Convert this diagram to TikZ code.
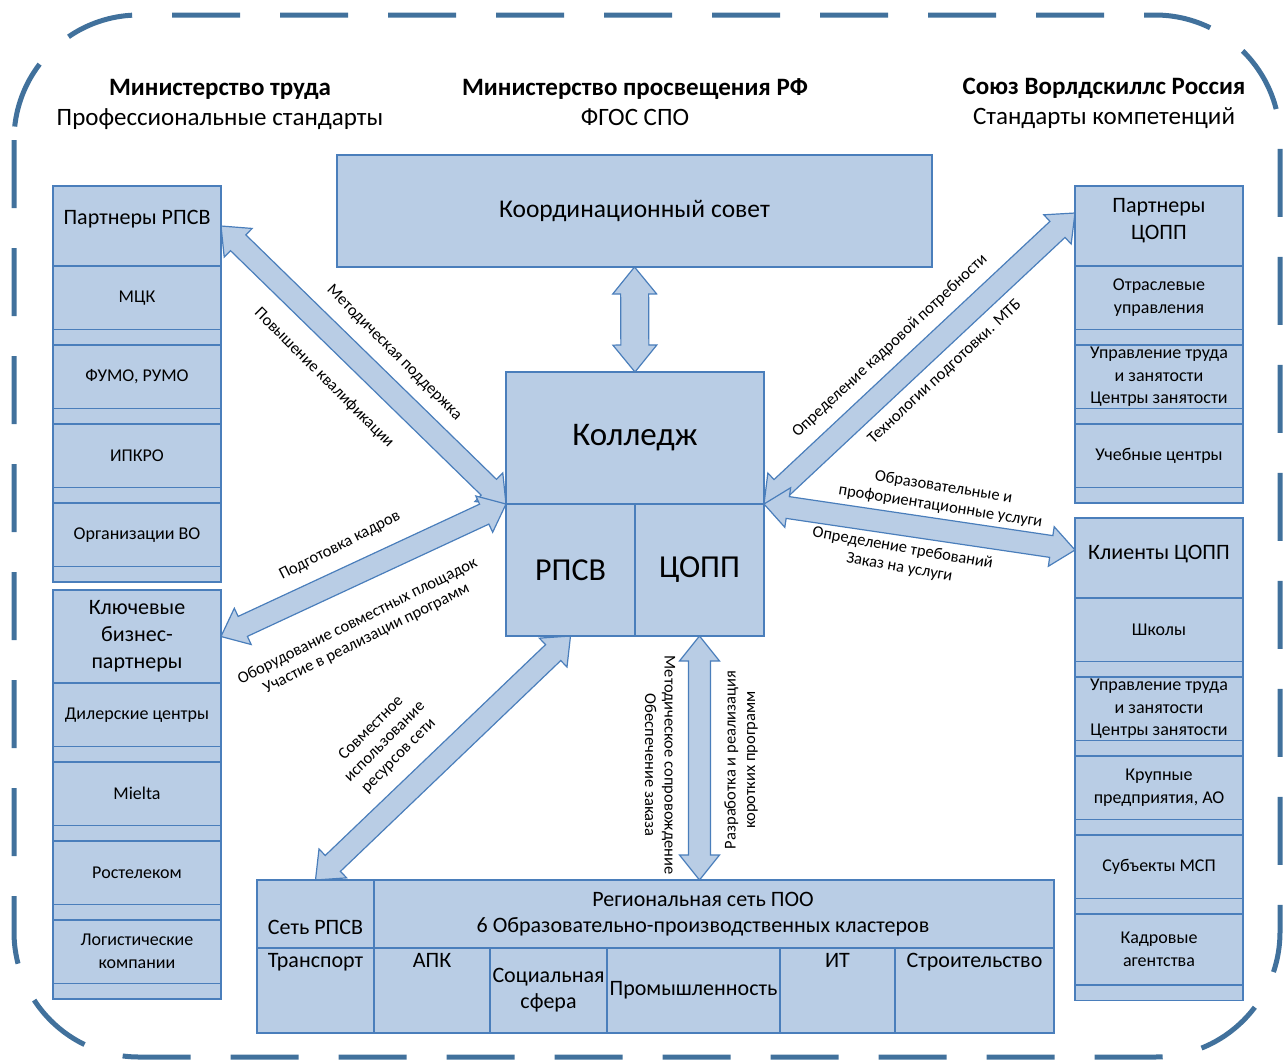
\documentclass[tikz,border=0pt]{standalone}
\usepackage{fontspec}
\setmainfont{Carlito}
\definecolor{box_fill}{HTML}{B9CDE5}
\definecolor{box_line}{HTML}{4A7EBB}
\definecolor{frame_line}{HTML}{41719C}
\usetikzlibrary{calc,positioning,backgrounds}
\newcommand{\dblarrow}[5]{%
  \coordinate (ha) at ($(#1)!#5!(#2)$);
  \coordinate (hb) at ($(#2)!#5!(#1)$);
  \draw[barrow] (#1) -- ($(ha)!#4!90:(#2)$) -- ($(ha)!#3!90:(#2)$)
    -- ($(hb)!#3!-90:(#1)$) -- ($(hb)!#4!-90:(#1)$) -- (#2)
    -- ($(hb)!#4!90:(#1)$) -- ($(hb)!#3!90:(#1)$)
    -- ($(ha)!#3!-90:(#2)$) -- ($(ha)!#4!-90:(#2)$) -- cycle;
}

\begin{document}
\begin{tikzpicture}[x=1pt, y=-1pt,
    cell/.style={draw=box_line, fill=box_fill, line width=1.5pt, outer sep=0pt,
      inner sep=2pt, minimum width=168pt, align=center,
      font=\fontsize{18}{22.5}\selectfont},
    item/.style={cell, minimum height=63.5pt},
    strip/.style={cell, minimum height=15.5pt},
    hdr/.style={cell, minimum height=80pt, font=\fontsize{22}{27}\selectfont},
    rowc/.style={cell, minimum height=85pt, font=\fontsize{22}{26}\selectfont},
    barrow/.style={draw=box_line, fill=box_fill, line width=1.2pt},
    lbl/.style={align=center, inner sep=0pt, font=\fontsize{16.5}{19.5}\selectfont},
    head/.style={align=center, font=\fontsize{25}{30}\selectfont}]
        \useasboundingbox (0,0) rectangle (1283,1061);
        \draw[frame_line, line width=5pt, rounded corners=125pt,
          dash pattern=on 68pt off 40pt] (14,15) rectangle (1280,1057);

        % top titles
        \node[head] (mtrud) at (220,104) {\textbf{Министерство труда}\\Профессиональные стандарты};
        \node[head] (mpros) at (635,102) {\textbf{Министерство просвещения РФ}\\ФГОС СПО};
        \node[head] (wsr) at (1104,103) {\textbf{Союз Ворлдскиллс Россия}\\Стандарты компетенций};

        % left column
        \node[hdr, text depth=17pt] (prpsv) at (137,226) {Партнеры РПСВ};
        \node[item, below=0pt of prpsv] (mck) {МЦК};
        \node[strip, below=0pt of mck] (mcks) {};
        \node[item, below=0pt of mcks] (fumo) {ФУМО, РУМО};
        \node[strip, below=0pt of fumo] (fumos) {};
        \node[item, below=0pt of fumos] (ipkro) {ИПКРО};
        \node[strip, below=0pt of ipkro] (ipkros) {};
        \node[item, below=0pt of ipkros] (orgvo) {Организации ВО};
        \node[strip, below=0pt of orgvo] (orgvos) {};

        \node[hdr, minimum height=93pt] (kbp) at (137,636.5) {Ключевые\\бизнес-\\партнеры};
        \node[item, below=0pt of kbp] (dil) {Дилерские центры};
        \node[strip, below=0pt of dil] (dils) {};
        \node[item, below=0pt of dils] (miel) {Mielta};
        \node[strip, below=0pt of miel] (miels) {};
        \node[item, below=0pt of miels] (rost) {Ростелеком};
        \node[strip, below=0pt of rost] (rosts) {};
        \node[item, below=0pt of rosts, font=\fontsize{18}{23}\selectfont] (logi) {Логистические\\компании};
        \node[strip, below=0pt of logi] (logis) {};

        % right column
        \node[hdr, text depth=14pt] (pcopp) at (1159,226) {Партнеры\\ЦОПП};
        \node[item, below=0pt of pcopp] (otr) {Отраслевые\\управления};
        \node[strip, below=0pt of otr] (otrs) {};
        \node[item, below=0pt of otrs] (utr1) {Управление труда\\и занятости\\Центры занятости};
        \node[strip, below=0pt of utr1] (utr1s) {};
        \node[item, below=0pt of utr1s] (uch) {Учебные центры};
        \node[strip, below=0pt of uch] (uchs) {};

        \node[hdr, text depth=11pt] (kcopp) at (1159,558) {Клиенты ЦОПП};
        \node[item, below=0pt of kcopp] (shk) {Школы};
        \node[strip, below=0pt of shk] (shks) {};
        \node[item, below=0pt of shks] (utr2) {Управление труда\\и занятости\\Центры занятости};
        \node[strip, below=0pt of utr2] (utr2s) {};
        \node[item, below=0pt of utr2s] (krup) {Крупные\\предприятия, АО};
        \node[strip, below=0pt of krup] (krups) {};
        \node[item, below=0pt of krups] (msp) {Субъекты МСП};
        \node[strip, below=0pt of msp] (msps) {};
        \node[item, below=0pt of msps, minimum height=71pt] (kadr) {Кадровые\\агентства};
        \node[strip, below=0pt of kadr] (kadrs) {};

        % center
        \node[cell, minimum width=595pt, minimum height=112pt,
          font=\fontsize{25.5}{28}\selectfont] (koord) at (634.5,211) {Координационный совет};
        \node[cell, minimum width=258pt, minimum height=132pt,
          font=\fontsize{33}{36}\selectfont] (kol) at (635,438) {Колледж};
        \node[cell, minimum width=129pt, minimum height=132pt, anchor=north west,
          font=\fontsize{32}{36}\selectfont] (rpsv) at (kol.south west) {РПСВ};
        \node[cell, minimum width=129pt, minimum height=132pt, anchor=north east,
          font=\fontsize{32}{36}\selectfont] (copp) at (kol.south east) {ЦОПП};

        % bottom
        \node[rowc, minimum width=117pt, minimum height=68pt, text height=41pt] (set) at (315.5,914) {Сеть РПСВ};
        \node[rowc, minimum width=680pt, minimum height=68pt, anchor=north west] (reg) at (set.north east)
          {Региональная сеть ПОО\hspace*{22pt}\\6 Образовательно-производственных кластеров\hspace*{22pt}};
        \node[rowc, minimum width=117pt, text depth=60pt, below=0pt of set] (trans) {Транспорт};
        \node[rowc, minimum width=116pt, text depth=60pt, right=0pt of trans] (apk) {АПК};
        \node[rowc, minimum width=117pt, right=0pt of apk] (soc) {Социальная\\сфера};
        \node[rowc, minimum width=173pt, right=0pt of soc] (prom) {Промышленность};
        \node[rowc, minimum width=115pt, text depth=60pt, right=0pt of prom] (it) {ИТ};
        \node[rowc, minimum width=159pt, text depth=60pt, right=0pt of it] (stroi) {Строительство};

        \coordinate (t5) at (copp.south |- reg.north);
        \coordinate (t6) at ($(pcopp.west)+(0,-13)$);
        \coordinate (t7) at ($(kcopp.west)+(0,-8)$);
        \begin{pgfonlayer}{background}
        \dblarrow{koord.south}{kol.north}{14pt}{22pt}{27pt}
        \dblarrow{kol.south west}{prpsv.east}{11pt}{20pt}{24pt}
        \dblarrow{kol.south west}{kbp.east}{11pt}{20pt}{24pt}
        \dblarrow{rpsv.south}{set.north}{11pt}{20pt}{24pt}
        \dblarrow{copp.south}{t5}{11pt}{20pt}{25pt}
        \dblarrow{kol.south east}{t6}{11pt}{20pt}{24pt}
        \dblarrow{kol.south east}{t7}{11pt}{20pt}{24pt}
        \end{pgfonlayer}

        % arrow labels
        \node[lbl, rotate=-45] (l1) at (394,353) {Методическая поддержка};
        \node[lbl, rotate=-45] (l2) at (324,378) {Повышение квалификации};
        \node[lbl, rotate=27] (l3) at (340,546) {Подготовка кадров};
        \node[lbl, rotate=26.5] (l4) at (362,630) {Оборудование совместных площадок\\Участие в реализации программ};
        \node[lbl, rotate=45] (l5) at (385,742) {Совместное\\использование\\ресурсов сети};
        \node[lbl, rotate=43] (l6) at (890,346) {Определение кадровой потребности};
        \node[lbl, rotate=43] (l7) at (945,372) {Технологии подготовки. МТБ};
        \node[lbl, rotate=-9] (l8) at (942,497) {Образовательные и\\профориентационные услуги};
        \node[lbl, rotate=-10] (l9) at (901,558) {Определение требований\\Заказ на услуги};
        \node[lbl, rotate=-90] (l10) at (660,765) {Методическое сопровождение\\Обеспечение заказа};
        \node[lbl, rotate=90] (l11) at (741,760) {Разработка и реализация\\коротких программ};
      \end{tikzpicture}
\end{document}
